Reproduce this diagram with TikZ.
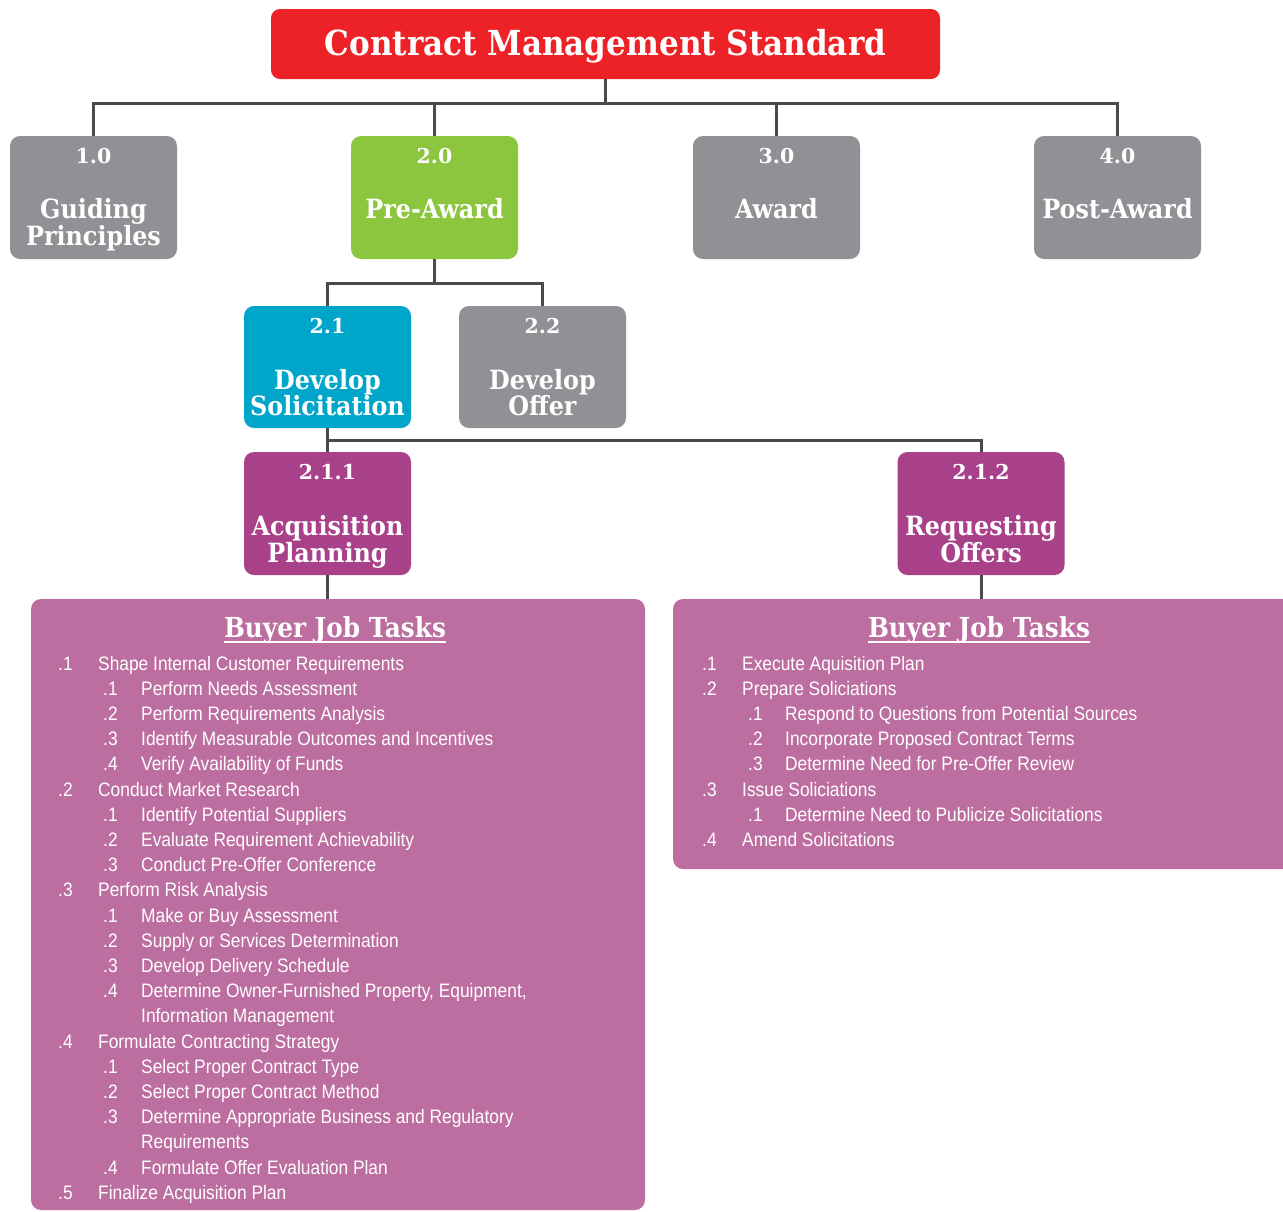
\documentclass[tikz,border=0pt]{standalone}
\usepackage{fontspec}
\setmainfont{Liberation Sans}
\newfontfamily\slab[FakeStretch=0.9]{DejaVu Serif}
\newfontfamily\slabw{DejaVu Serif}
\newfontfamily\cond[FakeStretch=0.89]{Liberation Sans}
\definecolor{cred}{HTML}{EC2227}
\definecolor{cgray}{HTML}{8F9194}
\definecolor{cgreen}{HTML}{8CC63F}
\definecolor{cteal}{HTML}{00A6C9}
\definecolor{cmag}{HTML}{A8408A}
\definecolor{ctask}{HTML}{BD6EA0}
\definecolor{cline}{HTML}{4A4A4A}
\tikzset{
  box/.style={rounded corners=10pt, draw=none, minimum width=167pt, minimum height=123pt, inner sep=0pt},
  conn/.style={draw=cline, line width=3pt},
  numtxt/.style={text=white, inner sep=0pt, font=\slabw\bfseries\fontsize{20.5}{22}\selectfont},
  lbltxt/.style={text=white, inner sep=0pt, font=\slab\bfseries\fontsize{26.5}{27}\selectfont},
  task/.style={text=white, inner sep=0pt, font=\cond\fontsize{19.5}{22}\selectfont},
  head/.style={text=white, inner sep=0pt, font=\slab\bfseries\fontsize{27.5}{28}\selectfont},
}
\begin{document}
\begin{tikzpicture}[x=1pt,y=-1pt]
\clip (0,0) rectangle (1283,1211);
\fill[white] (0,0) rectangle (1283,1211);
% title
\node[box, fill=cred, minimum width=669pt, minimum height=70pt, rounded corners=9pt] (title) at (605.5,44) {};
\node[text=white, inner sep=0pt, anchor=base, font=\slab\bfseries\fontsize{34.5}{36}\selectfont] (titletxt) at (605.5,55) {Contract Management Standard};
% level 1
\node[box, fill=cgray]  (b1) at (93.5,197.5) {};
\node[box, fill=cgreen] (b2) at (434.5,197.5) {};
\node[box, fill=cgray]  (b3) at (776.5,197.5) {};
\node[box, fill=cgray]  (b4) at (1117.5,197.5) {};
% level 2
\node[box, fill=cteal, minimum height=122pt] (s1) at (327.5,367) {};
\node[box, fill=cgray, minimum height=122pt] (s2) at (542.5,367) {};
% level 3
\node[box, fill=cmag] (t1) at (327.5,513.5) {};
\node[box, fill=cmag] (t2) at (981,513.5) {};
% task boxes
\node[box, fill=ctask, minimum width=614pt, minimum height=611pt] (k1) at (338,904.5) {};
\node[box, fill=ctask, minimum width=622pt, minimum height=270pt] (k2) at (984,734) {};
% connectors
\coordinate (h1) at (605.5,103);
\coordinate (h2) at (434.5,283);
\coordinate (h3) at (327.5,440);
\draw[conn] (title.south) -- (h1);
\draw[conn] (b1.north) |- (h1) -| (b4.north);
\draw[conn] (b2.north) -- (b2.north |- h1);
\draw[conn] (b3.north) -- (b3.north |- h1);
\draw[conn] (b2.south) -- (h2);
\draw[conn] (s1.north) |- (h2) -| (s2.north);
\draw[conn] (s1.south) -- (t1.north);
\draw[conn] (h3) -| (t2.north);
\draw[conn] (t1.south) -- (t1.south |- k1.north);
\draw[conn] (t2.south) -- (t2.south |- k2.north);
% box texts
\node[numtxt, anchor=base] (n1) at (93.5,163) {1.0};
\node[lbltxt, anchor=base] (l1a) at (93.5,218) {Guiding};
\node[lbltxt, anchor=base] (l1b) at (93.5,245) {Principles};
\node[numtxt, anchor=base] (n2) at (434.5,163) {2.0};
\node[lbltxt, anchor=base] (l2a) at (434.5,218) {Pre-Award};
\node[numtxt, anchor=base] (n3) at (776.5,163) {3.0};
\node[lbltxt, anchor=base] (l3a) at (776.5,218) {Award};
\node[numtxt, anchor=base] (n4) at (1117.5,163) {4.0};
\node[lbltxt, anchor=base] (l4a) at (1117.5,218) {Post-Award};
\node[numtxt, anchor=base] (n5) at (327.5,333) {2.1};
\node[lbltxt, anchor=base] (l5a) at (327.5,389) {Develop};
\node[lbltxt, anchor=base] (l5b) at (327.5,415) {Solicitation};
\node[numtxt, anchor=base] (n6) at (542.5,333) {2.2};
\node[lbltxt, anchor=base] (l6a) at (542.5,389) {Develop};
\node[lbltxt, anchor=base] (l6b) at (542.5,415) {Offer};
\node[numtxt, anchor=base] (n7) at (327.5,479) {2.1.1};
\node[lbltxt, anchor=base] (l7a) at (327.5,535) {Acquisition};
\node[lbltxt, anchor=base] (l7b) at (327.5,562) {Planning};
\node[numtxt, anchor=base] (n8) at (981,479) {2.1.2};
\node[lbltxt, anchor=base] (l8a) at (981,535) {Requesting};
\node[lbltxt, anchor=base] (l8b) at (981,562) {Offers};
% headings
\node[head, anchor=base] (hd1) at (335,637) {Buyer Job Tasks};
\node[head, anchor=base] (hd2) at (979,637) {Buyer Job Tasks};
\draw[white, line width=1.6pt] ([yshift=-5pt]hd1.base west) -- ([yshift=-5pt]hd1.base east);
\draw[white, line width=1.6pt] ([yshift=-5pt]hd2.base west) -- ([yshift=-5pt]hd2.base east);
% left list
\foreach [count=\i] \lv/\num/\txt in {
 1/.1/Shape Internal Customer Requirements,
 2/.1/Perform Needs Assessment,
 2/.2/Perform Requirements Analysis,
 2/.3/Identify Measurable Outcomes and Incentives,
 2/.4/Verify Availability of Funds,
 1/.2/Conduct Market Research,
 2/.1/Identify Potential Suppliers,
 2/.2/Evaluate Requirement Achievability,
 2/.3/Conduct Pre-Offer Conference,
 1/.3/Perform Risk Analysis,
 2/.1/Make or Buy Assessment,
 2/.2/Supply or Services Determination,
 2/.3/Develop Delivery Schedule,
 2/.4/{Determine Owner-Furnished Property, Equipment,},
 3//Information Management,
 1/.4/Formulate Contracting Strategy,
 2/.1/Select Proper Contract Type,
 2/.2/Select Proper Contract Method,
 2/.3/Determine Appropriate Business and Regulatory,
 3//Requirements,
 2/.4/Formulate Offer Evaluation Plan,
 1/.5/Finalize Acquisition Plan}{
  \pgfmathsetmacro\yy{670+(\i-1)*25.2}
  \pgfmathsetmacro\nx{\lv==1 ? 58 : 103}
  \pgfmathsetmacro\tx{\lv==1 ? 98 : 141}
  \node[task, anchor=base west] (ln\i) at (\nx,\yy) {\num};
  \node[task, anchor=base west] (lt\i) at (\tx,\yy) {\txt};
}
% right list
\foreach [count=\i] \lv/\num/\txt in {
 1/.1/Execute Aquisition Plan,
 1/.2/Prepare Soliciations,
 2/.1/Respond to Questions from Potential Sources,
 2/.2/Incorporate Proposed Contract Terms,
 2/.3/Determine Need for Pre-Offer Review,
 1/.3/Issue Soliciations,
 2/.1/Determine Need to Publicize Solicitations,
 1/.4/Amend Solicitations}{
  \pgfmathsetmacro\yy{670+(\i-1)*25.2}
  \pgfmathsetmacro\nx{\lv==1 ? 702 : 748}
  \pgfmathsetmacro\tx{\lv==1 ? 742 : 785}
  \node[task, anchor=base west] (rn\i) at (\nx,\yy) {\num};
  \node[task, anchor=base west] (rt\i) at (\tx,\yy) {\txt};
}
\end{tikzpicture}
\end{document}
